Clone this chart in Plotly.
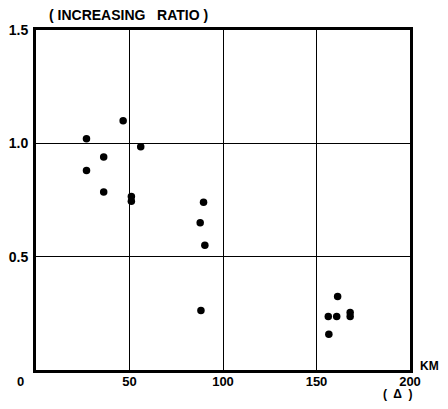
import plotly.graph_objects as go

distance_km = [27, 27, 46.6, 36.2, 36.2, 51, 51, 56, 89.6, 87.8, 90.3, 88.2,
               161.3, 156.3, 160.8, 156.6, 168, 168]
increasing_ratio = [1.02, 0.88, 1.10, 0.94, 0.785, 0.765, 0.745, 0.985, 0.74, 0.65, 0.55, 0.262,
                    0.324, 0.236, 0.236, 0.158, 0.254, 0.236]

x_ticks = [50, 100, 150, 200]
x_tick_labels = ["<b>50</b>", "<b>100</b>", "<b>150</b>", "<b>200</b>"]
y_ticks = [0.5, 1.0, 1.5]
y_tick_labels = ["<b>0.5</b>", "<b>1.0</b>", "<b>1.5</b>"]

FONT = "Liberation Sans, Arial, sans-serif"

# page body has an 8px default margin: target plot area in window px is x 36..410, y 30..370
OFF = 8
PL, PR, PT, PB = 36, 410, 30, 370
W, H = 448 - 2 * OFF, 409 - 2 * OFF


def px(xw):
    return (xw - PL) / (PR - PL)


def py(yw):
    return (PB - yw) / (PB - PT)


fig = go.Figure()
fig.add_trace(go.Scatter(
    x=distance_km, y=increasing_ratio, mode="markers",
    marker=dict(color="black", size=7.5, line=dict(width=0)),
    showlegend=False, hoverinfo="x+y",
))

fig.update_xaxes(
    range=[0, 200], tickvals=x_ticks, ticktext=x_tick_labels,
    showgrid=True, gridcolor="black", gridwidth=1,
    showline=True, linecolor="black", linewidth=3, mirror=True,
    ticks="", zeroline=False, ticklabelstandoff=-3, automargin=False,
    tickfont=dict(family=FONT, size=13, color="black"),
)
fig.update_yaxes(
    range=[0, 1.5], tickvals=y_ticks, ticktext=y_tick_labels,
    showgrid=True, gridcolor="black", gridwidth=1,
    showline=True, linecolor="black", linewidth=3, mirror=True,
    ticks="", zeroline=False, ticklabelstandoff=2, automargin=False,
    tickfont=dict(family=FONT, size=14, color="black"),
)

fig.update_layout(
    width=W, height=H,
    margin=dict(l=PL - OFF, r=W + OFF - PR, t=PT - OFF, b=H + OFF - PB),
    paper_bgcolor="white", plot_bgcolor="white",
    font=dict(family=FONT, color="black", size=13),
    annotations=[
        dict(text="<b>( INCREASING   RATIO )</b>", x=px(128), y=py(15),
             font=dict(size=14)),
        dict(text="<b>0</b>", x=px(20), y=py(381), font=dict(size=13)),
        dict(text="<b>KM</b>", x=px(429), y=py(366), font=dict(size=12)),
        dict(text="<b>(  Δ  )</b>", x=px(398), y=py(394), font=dict(size=12)),
    ],
)
fig.update_annotations(xref="paper", yref="paper", showarrow=False,
                       xanchor="center", yanchor="middle")

fig.write_html("out.html")
